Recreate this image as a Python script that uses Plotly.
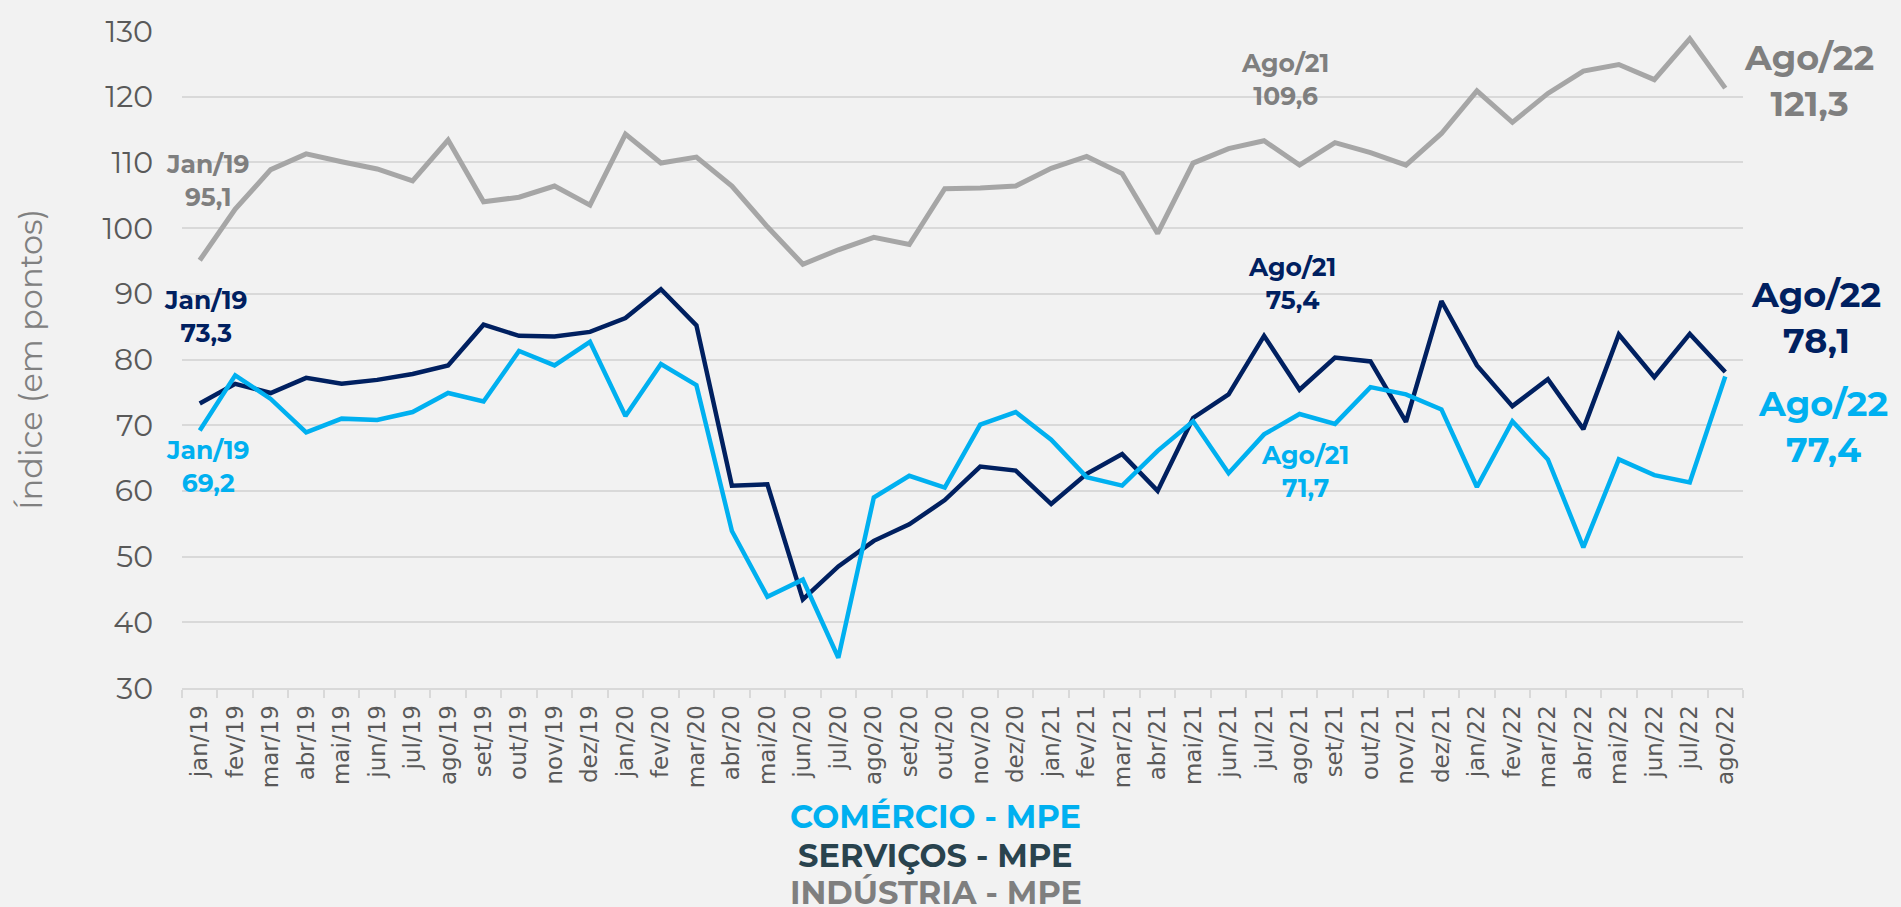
import plotly.graph_objects as go

# categorias (meses)
meses = ['jan/19', 'fev/19', 'mar/19', 'abr/19', 'mai/19', 'jun/19', 'jul/19', 'ago/19',
         'set/19', 'out/19', 'nov/19', 'dez/19',
         'jan/20', 'fev/20', 'mar/20', 'abr/20', 'mai/20', 'jun/20', 'jul/20', 'ago/20',
         'set/20', 'out/20', 'nov/20', 'dez/20',
         'jan/21', 'fev/21', 'mar/21', 'abr/21', 'mai/21', 'jun/21', 'jul/21', 'ago/21',
         'set/21', 'out/21', 'nov/21', 'dez/21',
         'jan/22', 'fev/22', 'mar/22', 'abr/22', 'mai/22', 'jun/22', 'jul/22', 'ago/22']

# séries
comercio = [69.2, 77.6, 74.0, 68.9, 71.0, 70.8, 72.0, 74.9, 73.6, 81.3, 79.1, 82.7,
            71.4, 79.3, 76.1, 53.9, 43.9, 46.5, 34.6, 59.0, 62.3, 60.5, 70.1, 72.0,
            67.8, 62.1, 60.8, 66.1, 70.6, 62.7, 68.6, 71.7, 70.2, 75.8, 74.7, 72.4,
            60.6, 70.6, 64.8, 51.4, 64.8, 62.4, 61.3, 77.4]

servicos = [73.3, 76.3, 74.9, 77.2, 76.3, 76.9, 77.8, 79.1, 85.3, 83.6, 83.5, 84.2,
            86.3, 90.7, 85.2, 60.8, 61.0, 43.5, 48.5, 52.4, 54.9, 58.6, 63.7, 63.1,
            58.0, 62.6, 65.6, 60.0, 71.1, 74.7, 83.6, 75.4, 80.3, 79.7, 70.5, 88.9,
            79.1, 72.9, 77.0, 69.4, 83.8, 77.3, 83.9, 78.1]

industria = [95.1, 102.9, 108.9, 111.3, 110.1, 109.0, 107.2, 113.4, 104.0, 104.7, 106.4, 103.5,
             114.3, 109.9, 110.8, 106.4, 100.2, 94.5, 96.7, 98.6, 97.5, 106.0, 106.1, 106.4,
             109.1, 110.9, 108.3, 99.2, 109.9, 112.1, 113.3, 109.6, 113.0, 111.5, 109.6, 114.4,
             120.9, 116.1, 120.5, 123.9, 124.9, 122.6, 128.8, 121.3]

AZUL = '#00b0f0'
MARINHO = '#002060'
CINZA = '#a6a6a6'
CINZA_TXT = '#7f7f7f'
SERV_TXT = '#29434e'
FONTE = 'Montserrat, Open Sans, sans-serif'


def fmt(v):
    return f'{v:.1f}'.replace('.', ',')


fig = go.Figure()

fig.add_trace(go.Scatter(x=meses, y=industria, name='INDÚSTRIA - MPE', mode='lines',
                         line=dict(color=CINZA, width=5)))
fig.add_trace(go.Scatter(x=meses, y=servicos, name='SERVIÇOS - MPE', mode='lines',
                         line=dict(color=MARINHO, width=4.5)))
fig.add_trace(go.Scatter(x=meses, y=comercio, name='COMÉRCIO - MPE', mode='lines',
                         line=dict(color=AZUL, width=4.5)))

# rótulos dos pontos destacados: (serie, indice, x, y, deslocamento x em px, cor, tamanho)
i_ago21 = meses.index('ago/21')
ult = len(meses) - 1
rotulos = [
    (industria, 0, 0.23, 107.2, 0, CINZA_TXT, 25),
    (servicos, 0, 0.17, 86.6, 0, MARINHO, 25),
    (comercio, 0, 0.23, 63.7, 0, AZUL, 25),
    (industria, i_ago21, 30.6, 122.6, 0, CINZA_TXT, 25),
    (servicos, i_ago21, 30.8, 91.6, 0, MARINHO, 25),
    (comercio, i_ago21, 31.15, 63.0, 0, AZUL, 25),
    (industria, ult, ult, 122.4, 84, CINZA_TXT, 35),
    (servicos, ult, ult, 86.4, 91, MARINHO, 35),
    (comercio, ult, ult, 69.8, 98, AZUL, 35),
]
for serie, i, xa, ya, dx, cor, tam in rotulos:
    mes = meses[i].capitalize()
    fig.add_annotation(x=xa, y=ya, xref='x', yref='y', xshift=dx, showarrow=False,
                       text=f'<b>{mes}<br>{fmt(serie[i])}</b>',
                       font=dict(family=FONTE, size=tam, color=cor), align='center')

# legenda em texto
legenda = [('COMÉRCIO - MPE', AZUL, -0.196), ('SERVIÇOS - MPE', SERV_TXT, -0.2545),
           ('INDÚSTRIA - MPE', CINZA_TXT, -0.312)]
for txt, cor, yy in legenda:
    fig.add_annotation(x=0.483, y=yy, xref='paper', yref='paper', showarrow=False,
                       xanchor='center', yanchor='middle',
                       text=f'<b>{txt}</b>', font=dict(family=FONTE, size=32, color=cor))

fig.update_layout(
    width=1901, height=907,
    margin=dict(l=182, r=158, t=24, b=219),
    paper_bgcolor='#f2f2f2', plot_bgcolor='#f2f2f2',
    showlegend=False,
    font=dict(family=FONTE),
)

fig.update_xaxes(
    type='category', range=[-0.5, 43.5],
    showgrid=False, showline=True, linecolor='#d9d9d9', linewidth=2,
    ticks='outside', tickson='boundaries', ticklen=8, tickcolor='#d9d9d9', tickwidth=1.5,
    tickangle=-90, tickfont=dict(family='DejaVu Sans', size=23, color='#595959'),
    ticklabelstandoff=6,
)
fig.update_yaxes(
    range=[30, 130], dtick=10, showgrid=True, gridcolor='#d9d9d9', gridwidth=2,
    zeroline=False, showline=False,
    tickfont=dict(family=FONTE, size=30, color='#595959'), ticklabelstandoff=28,
    title=dict(text='Índice (em pontos)', font=dict(family=FONTE, size=32, color='#808080'),
               standoff=50),
)

fig.write_html('out.html', config={'displayModeBar': False},
               post_script="document.body.style.margin='0';document.body.style.overflow='hidden';")
